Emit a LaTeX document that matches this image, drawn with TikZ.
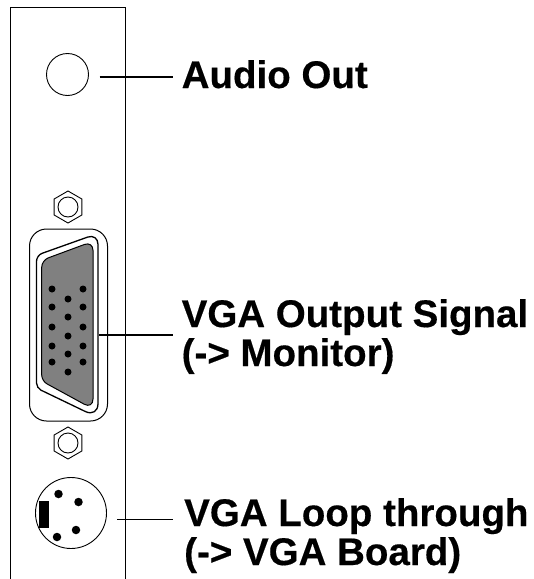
\documentclass[tikz,border=0pt]{standalone}
\usepackage{fontspec}
\setmainfont[BoldFeatures={FakeBold=0.4}]{Liberation Sans}
\usetikzlibrary{shapes.geometric}
\tikzset{
  panel/.style={line width=1.2pt,black},
  conn/.style={line width=1.1pt,black},
  shell/.style={line width=1pt,black},
  pin/.style={circle,fill=black,inner sep=0pt,minimum size=#1},
  lab/.style={anchor=base west,inner sep=0pt,font=\fontsize{38.5pt}{39pt}\selectfont\bfseries},
  nut/.style={regular polygon,regular polygon sides=6,shape border rotate=30,draw,line width=.9pt,minimum size=32pt,inner sep=0pt},
  hole/.style={circle,draw,line width=.9pt,inner sep=0pt,minimum size=#1}
}
\begin{document}
\begin{tikzpicture}[x=1pt,y=-1pt]
\useasboundingbox (0,0) rectangle (534,579);
\draw[panel] (10.5,579) -- (10.5,7.5) -- (125.5,7.5) -- (125.5,579);
% audio
\node[hole=42pt] (audio) at (67.5,74.5) {};
\coordinate (audioL) at (99.5,77);
\coordinate (audioR) at (173,77);
\draw[conn] (audioL) -- (audioR);
\node[lab] (taudio) at (181.5,88) {Audio Out};
% nuts
\node[nut] (nutA) at (68,207) {};
\node[hole=20pt] (nutAh) at (68,207) {};
\node[nut] (nutB) at (68,443) {};
\node[hole=20pt] (nutBh) at (68,443) {};
% shell
\draw[shell,rounded corners=17pt] (29.5,229) rectangle (107.5,421);
\draw[line width=1.3pt] (36.5,320) [rounded corners=6pt] -- (36.5,255.3) [rounded corners=11pt] -- (98,233.4) [rounded corners=14pt] -- (98,417.6) [rounded corners=5pt] -- (36.5,388) -- (36.5,320);
\draw[line width=1pt,fill=black!50] (41.7,320) [rounded corners=7pt] -- (41.7,260.3) [rounded corners=9pt] -- (93,241.3) [rounded corners=10pt] -- (93,409) [rounded corners=6pt] -- (41.7,381) -- (41.7,320);
% pins
\foreach \n/\x/\y in {a/52/289,b/52/307,c/52/327,d/52/346,e/52/362,f/68/299,g/68/317,h/68/336,i/68/354,j/68/372,k/83/289,l/83/307,m/83/327,n/83/346,o/83/362}
  \node[pin=7pt] (p\n) at (\x,\y) {};
\coordinate (vgaL) at (99,335);
\coordinate (vgaR) at (173,335);
\draw[conn] (vgaL) -- (vgaR);
\node[lab] (tvga1) at (181.5,327) {VGA Output Signal};
\node[lab] (tvga2) at (181.5,366) {(-> Monitor)};
% din
\node[hole=71pt] (din) at (71,513) {};
\fill[black] (39,501) rectangle (48.5,528);
\node[pin=8.5pt] (d1) at (58.5,494) {};
\node[pin=8.5pt] (d2) at (78.5,502) {};
\node[pin=8.5pt] (d3) at (76,530) {};
\node[pin=8.5pt] (d4) at (57,537) {};
\coordinate (dinL) at (117,519.5);
\coordinate (dinR) at (173,519.5);
\draw[conn] (dinL) -- (dinR);
\node[lab] (tl1) at (184,526) {VGA Loop through};
\node[lab] (tl2) at (184,565) {(-> VGA Board)};
\end{tikzpicture}
\end{document}
